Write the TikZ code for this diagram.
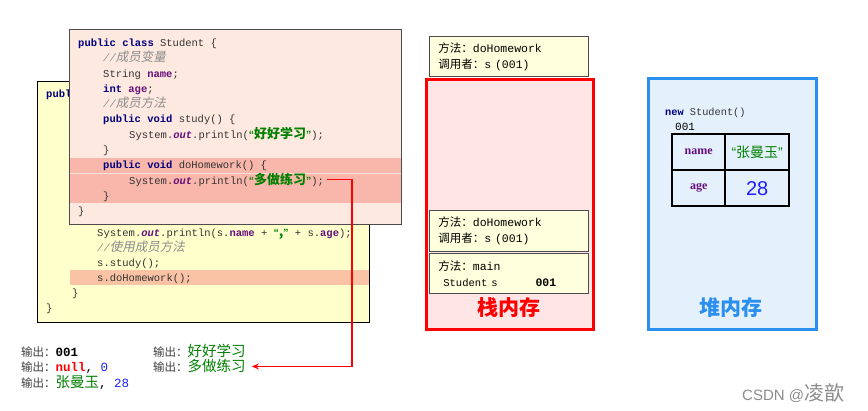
\documentclass[tikz,border=0pt]{standalone}
\usepackage{fontspec}
\setmainfont{Liberation Sans}
\setmonofont{Liberation Mono}
\newfontfamily\cjk{Noto Sans CJK SC}
\newfontfamily\cjkslant{Noto Sans CJK SC}[FakeSlant=0.2]
\newfontfamily\serifbf{Liberation Serif}
\usepackage{xcolor}
\definecolor{cKey}{HTML}{000080}
\definecolor{cField}{HTML}{660E7A}
\definecolor{cStr}{HTML}{008000}
\definecolor{cCmt}{HTML}{8C8C8C}
\definecolor{cCode}{HTML}{333333}
\definecolor{cYellow}{HTML}{FFFFCC}
\definecolor{cPeach}{HTML}{FDE9DF}
\definecolor{cBand}{HTML}{F8B7AA}
\definecolor{cBandB}{HTML}{FBC3A5}
\definecolor{cFrame}{HTML}{FFFFDD}
\definecolor{cStack}{HTML}{FF0000}
\definecolor{cStackBg}{HTML}{FFE5E6}
\definecolor{cHeap}{HTML}{2B8FF0}
\definecolor{cHeapBg}{HTML}{E4F1FD}
\definecolor{cNum}{HTML}{1F1FFF}
\definecolor{cLbl}{HTML}{404040}
\usepackage{tikz}
\usetikzlibrary{positioning,arrows.meta}
% code colouring
\newcommand\kw[1]{{\bfseries\color{cKey}#1}}
\newcommand\fld[1]{{\bfseries\color{cField}#1}}
\newcommand\outf{{\bfseries\itshape\color{cField}out}}
\newcommand\zhstr[1]{{\color{cStr}\bfseries{\rmfamily“}{\cjk\fontsize{13}{14}\selectfont #1}{\rmfamily”}}}
\newcommand\cmt[1]{{\color{cCmt}\itshape//{\cjkslant\fontsize{12.5}{14}\selectfont #1}}}
\newcommand\outlbl{{\cjk\fontsize{11.5}{13}\selectfont\color{cLbl}输出：}}
\newcommand\zhgreen[1]{{\cjk\fontsize{14.5}{15}\selectfont\color{cStr}#1}}
\tikzset{
  code/.style={anchor=base west,inner sep=0pt,text=cCode,
    font=\ttfamily\fontsize{10.5}{12}\selectfont},
  backbox/.style={draw=black,fill=cYellow,line width=0.8pt,anchor=north west},
  frontbox/.style={draw=black!70,fill=cPeach,line width=0.8pt,anchor=north west},
  band/.style={fill=#1,draw=none,anchor=north west,inner sep=0pt},
  stackframe/.style={draw=black!70,fill=cFrame,line width=0.7pt,anchor=north west,
    minimum width=159pt,minimum height=40pt,text width=141pt,inner xsep=9pt,
    inner ysep=0pt,align=left,font=\ttfamily\fontsize{11.5}{16}\selectfont},
  membox/.style={line width=3pt,anchor=north west,inner sep=0pt},
  memlabel/.style={font=\cjk\bfseries\fontsize{21}{24}\selectfont,inner sep=0pt},
  cell/.style={draw=black,line width=2.4pt,anchor=north west,minimum height=36pt,
    inner sep=0pt},
  outline/.style={anchor=base west,inner sep=0pt,
    font=\ttfamily\fontsize{12.5}{14}\selectfont},
  arrow-red/.style={-{Stealth[length=7pt,width=6pt]},draw=red,line width=1.2pt},
}
\begin{document}
\begin{tikzpicture}[x=1pt,y=-1pt]
  \useasboundingbox[fill=white] (0,0) rectangle (868,411);

  % main class, behind
  \node[backbox,minimum width=332pt,minimum height=241pt] (main-box) at (37,81) {};
  \node[band=cBandB,minimum width=299pt,minimum height=15pt] (main-band) at (70,270) {};
  \node[code] (m-0) at (46,98) {\kw{publ}};
  \node[code] (m-1) at (97,237) {System.\outf.println(s.\fld{name} + \zhstr{,} + s.\fld{age});};
  \node[code] (m-2) at (97,252) {\cmt{使用成员方法}};
  \node[code] (m-3) at (97,267) {s.study();};
  \node[code] (m-4) at (97,282) {s.doHomework();};
  \node[code] (m-5) at (72,297) {\}};
  \node[code] (m-6) at (46,311.5) {\}};

  % class Student, in front
  \node[frontbox,minimum width=332pt,minimum height=195pt] (stu-box) at (69,29) {};
  \node[band=cBand,minimum width=331pt,minimum height=45pt] (stu-band) at (69.5,158) {};
  \draw[white!60!cBand,line width=1pt] (stu-band.west |- 0,173.5) -- (stu-band.east |- 0,173.5);
  \node[code] (s-1)  at (78,46.5)   {\kw{public} \kw{class} Student \{};
  \node[code] (s-2)  at (103,61.8)  {\cmt{成员变量}};
  \node[code] (s-3)  at (103,77.1)  {String \fld{name};};
  \node[code] (s-4)  at (103,92.4)  {\kw{int} \fld{age};};
  \node[code] (s-5)  at (103,107.7) {\cmt{成员方法}};
  \node[code] (s-6)  at (103,123)   {\kw{public} \kw{void} study() \{};
  \node[code] (s-7)  at (129,138.3) {System.\outf.println(\zhstr{好好学习});};
  \node[code] (s-8)  at (103,153.6) {\}};
  \node[code] (s-9)  at (103,168.9) {\kw{public} \kw{void} doHomework() \{};
  \node[code] (hw-print) at (129,184.2) {System.\outf.println(\zhstr{多做练习});};
  \node[code] (s-11) at (103,199.5) {\}};
  \node[code] (s-12) at (78,214.8)  {\}};

  % stack
  \node[stackframe] (frame-top) at (429,36) {{\cjk 方法：}doHomework\\{\cjk 调用者：}s (001)};
  \node[membox,draw=cStack,fill=cStackBg,minimum width=167pt,minimum height=250pt] (stack) at (425,78) {};
  \node[stackframe,minimum height=41pt] (frame-hw) at (429,210) {{\cjk 方法：}doHomework\\{\cjk 调用者：}s (001)};
  \node[stackframe] (frame-main) at (429,253)
    {{\cjk 方法：}main\\{\fontsize{10.5}{16}\selectfont\hspace*{5pt}Student s}\hspace{38pt}{\bfseries 001}};
  \node[memlabel,text=cStack] (stack-lbl) at (509,308) {栈内存};

  % heap
  \node[membox,draw=cHeap,fill=cHeapBg,minimum width=168pt,minimum height=251pt] (heap) at (647,77) {};
  \node[code,font=\ttfamily\fontsize{10.3}{12}\selectfont] (new-stu) at (665,116) {\kw{new} Student()};
  \node[code,text=black,font=\ttfamily\fontsize{11}{12}\selectfont] (addr) at (675,131) {001};
  \node[cell,minimum width=53pt] (cell-n)  at (671,133)
    {\serifbf\bfseries\fontsize{12}{12}\selectfont\color{cField}name};
  \node[cell,minimum width=64pt] (cell-nv) at (724,133)
    {\fontsize{14}{15}\selectfont\color{cStr}“{\cjk 张曼玉}”};
  \node[cell,minimum width=53pt] (cell-a)  at (671,169)
    {\serifbf\bfseries\fontsize{12}{12}\selectfont\color{cField}age};
  \node[cell,minimum width=64pt] (cell-av) at (724,169)
    {\fontsize{20}{22}\selectfont\color{cNum}28};
  \node[memlabel,text=cHeap] (heap-lbl) at (731,308) {堆内存};

  % output
  \node[outline] (out-id)    at (21,357)  {\outlbl{\bfseries 001}};
  \node[outline] (out-null)  at (21,372)  {\outlbl{\bfseries\color{red}null}, {\color{cNum}0}};
  \node[outline] (out-name)  at (21,388)  {\outlbl\zhgreen{张曼玉}, {\color{cNum}28}};
  \node[outline] (out-study) at (153,357) {\outlbl\zhgreen{好好学习}};
  \node[outline] (out-hw)    at (153,372) {\outlbl\zhgreen{多做练习}};

  \coordinate (turn) at (349,181);
  \draw[arrow-red] ([xshift=3pt]hw-print.east) -- ([xshift=3pt]hw-print.east -| turn)
    |- ([xshift=6pt]out-hw.east);

  \node[anchor=west,inner sep=0pt,text=black!45,font=\fontsize{15}{16}\selectfont]
    (credit) at (742,393) {CSDN @{\cjk\fontsize{20}{20}\selectfont 凌歆}};
\end{tikzpicture}
\end{document}
